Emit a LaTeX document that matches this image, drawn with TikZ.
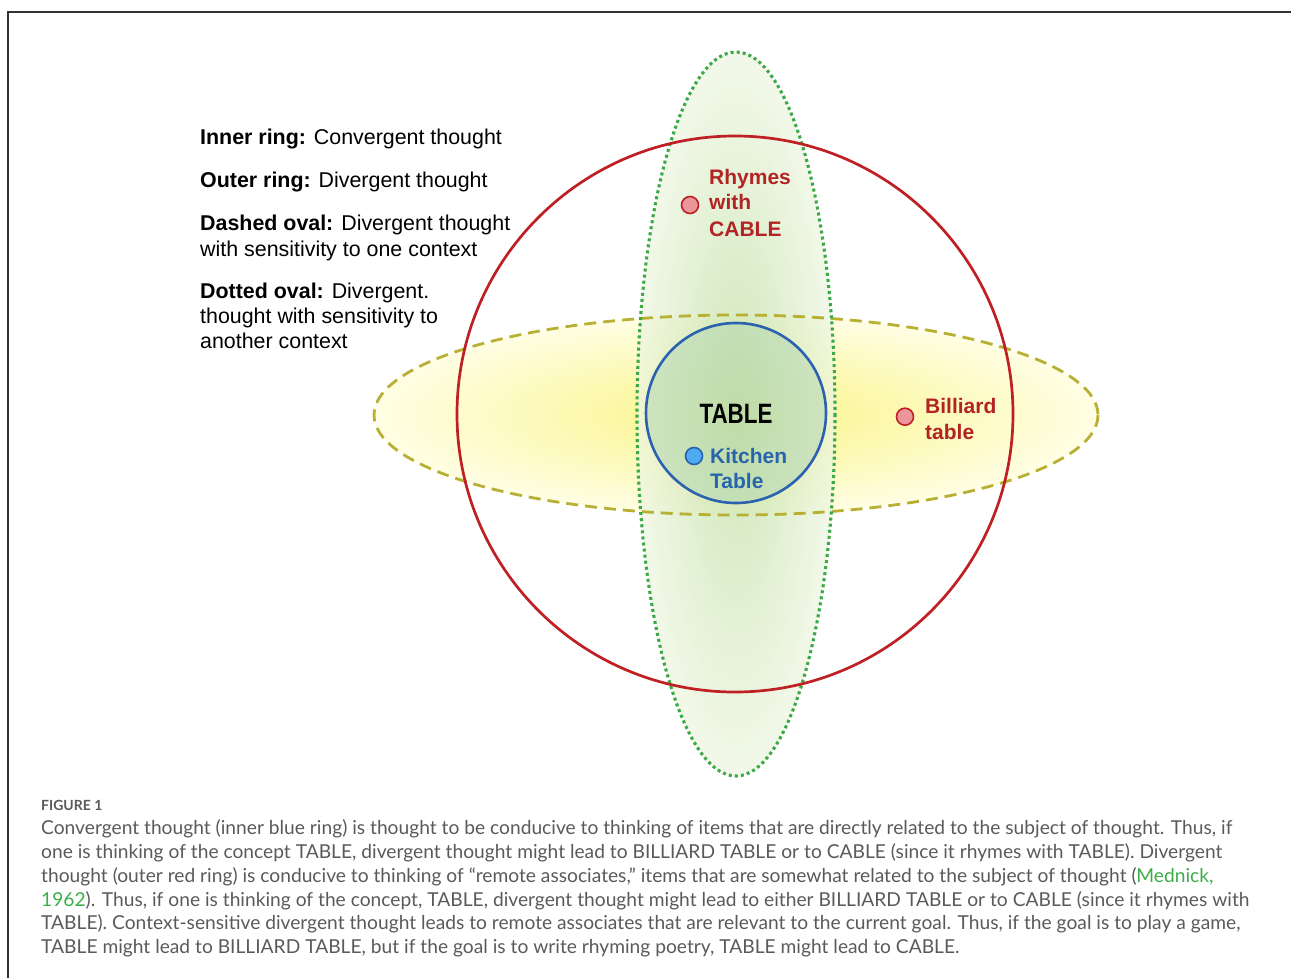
\documentclass[tikz,border=0pt]{standalone}
\usepackage{fontspec}
\setmainfont{Liberation Sans}
\newfontfamily\capfont{Lato}
\definecolor{ringred}{RGB}{190,32,36}
\definecolor{txtred}{RGB}{178,36,36}
\definecolor{dotpink}{RGB}{234,150,155}
\definecolor{ringblue}{RGB}{42,98,176}
\definecolor{txtblue}{RGB}{40,100,172}
\definecolor{dotblue}{RGB}{80,170,240}
\definecolor{dashol}{RGB}{184,176,50}
\definecolor{dotgreen}{RGB}{60,168,70}
\definecolor{capgray}{RGB}{90,90,90}
\definecolor{capgreen}{RGB}{60,174,73}
\definecolor{framegray}{RGB}{50,50,50}
\tikzset{
  legend/.style={anchor=base west, inner sep=0pt, font=\fontsize{21.4}{26}\selectfont, align=left},
  lbl/.style={anchor=base west, inner sep=0pt, font=\fontsize{21}{25}\selectfont\bfseries},
  capline/.style={anchor=base west, inner sep=0pt, text=capgray, font=\capfont\fontsize{19.2}{24}\selectfont},
  reddot/.style={circle, draw=ringred, fill=dotpink, line width=1.6pt, minimum size=17pt, inner sep=0pt},
  bluedot/.style={circle, draw=ringblue, fill=dotblue, line width=1.6pt, minimum size=17pt, inner sep=0pt},
}
\begin{document}
\begin{tikzpicture}[x=1pt,y=-1pt]
\useasboundingbox (0,0) rectangle (1291,978);
% frame
\draw[framegray, line width=1.5pt] (1291,12) -- (8,12) -- (8,978);
% fills
\shade[inner color={rgb,255:red,250;green,244;blue,135}, outer color={rgb,255:red,255;green,254;blue,228}]
  (736,415) ellipse [x radius=362, y radius=100];
\shade[inner color={rgb,255:red,190;green,222;blue,160}, outer color={rgb,255:red,238;green,246;blue,226}, fill opacity=0.75]
  (736,414) ellipse [x radius=99, y radius=362];
\fill[fill={rgb,255:red,180;green,215;blue,180}, fill opacity=0.55] (736,413) circle [radius=90];
% outlines
\draw[dashol, line width=2.8pt, dash pattern=on 12pt off 7pt] (736,415) ellipse [x radius=362, y radius=100];
\draw[dotgreen, line width=3.1pt, dash pattern=on 3pt off 3.1pt] (736,414) ellipse [x radius=99, y radius=362];
\draw[ringred, line width=2.7pt] (735,414) circle [radius=278];
\draw[ringblue, line width=2.6pt] (736,413) circle [radius=90];
% dots and labels
\node[reddot] (d1) at (690,205) {};
\node[lbl, text=txtred] (r1) at (709,184.3) {Rhymes};
\node[lbl, text=txtred] (r2) at (709,209.3) {with};
\node[lbl, text=txtred] (r3) at (709,236) {CABLE};
\node[reddot] (d2) at (905,416.7) {};
\node[lbl, text=txtred] (b1) at (925,413.3) {Billiard};
\node[lbl, text=txtred] (b2) at (925,439.3) {table};
\node[bluedot] (d3) at (694,456) {};
\node[lbl, text=txtblue] (k1) at (710,463.3) {Kitchen};
\node[lbl, text=txtblue] (k2) at (710,488.3) {Table};
\node[anchor=base, inner sep=0pt, font=\fontsize{28}{30}\selectfont\bfseries] (tab) at (736,423.3) {\scalebox{0.8}[1]{TABLE}};
% legend
\node[legend] (l1) at (200,144.3) {\textbf{Inner ring:} Convergent thought};
\node[legend] (l2) at (200,187.7) {\textbf{Outer ring:} Divergent thought};
\node[legend] (l3) at (200,230) {\textbf{Dashed oval:} Divergent thought};
\node[legend] (l4) at (200,256.7) {with sensitivity to one context};
\node[legend] (l5) at (200,298) {\textbf{Dotted oval:} Divergent.};
\node[legend] (l6) at (200,323) {thought with sensitivity to};
\node[legend] (l7) at (200,348) {another context};
% caption
\node[anchor=base west, inner sep=0pt, text=capgray, font=\capfont\bfseries\fontsize{14}{16}\selectfont] (fig) at (41,810) {FIGURE 1};
\node[capline] (c1) at (41,834) {Convergent thought (inner blue ring) is thought to be conducive to thinking of items that are directly related to the subject of thought. Thus, if};
\node[capline] (c2) at (41,858) {one is thinking of the concept TABLE, divergent thought might lead to BILLIARD TABLE or to CABLE (since it rhymes with TABLE). Divergent};
\node[capline] (c3) at (41,882) {thought (outer red ring) is conducive to thinking of “remote associates,” items that are somewhat related to the subject of thought (\textcolor{capgreen}{Mednick,}};
\node[capline] (c4) at (41,906) {\textcolor{capgreen}{1962}). Thus, if one is thinking of the concept, TABLE, divergent thought might lead to either BILLIARD TABLE or to CABLE (since it rhymes with};
\node[capline] (c5) at (41,929) {TABLE). Context-sensitive divergent thought leads to remote associates that are relevant to the current goal. Thus, if the goal is to play a game,};
\node[capline] (c6) at (41,953) {TABLE might lead to BILLIARD TABLE, but if the goal is to write rhyming poetry, TABLE might lead to CABLE.};
\end{tikzpicture}
\end{document}
